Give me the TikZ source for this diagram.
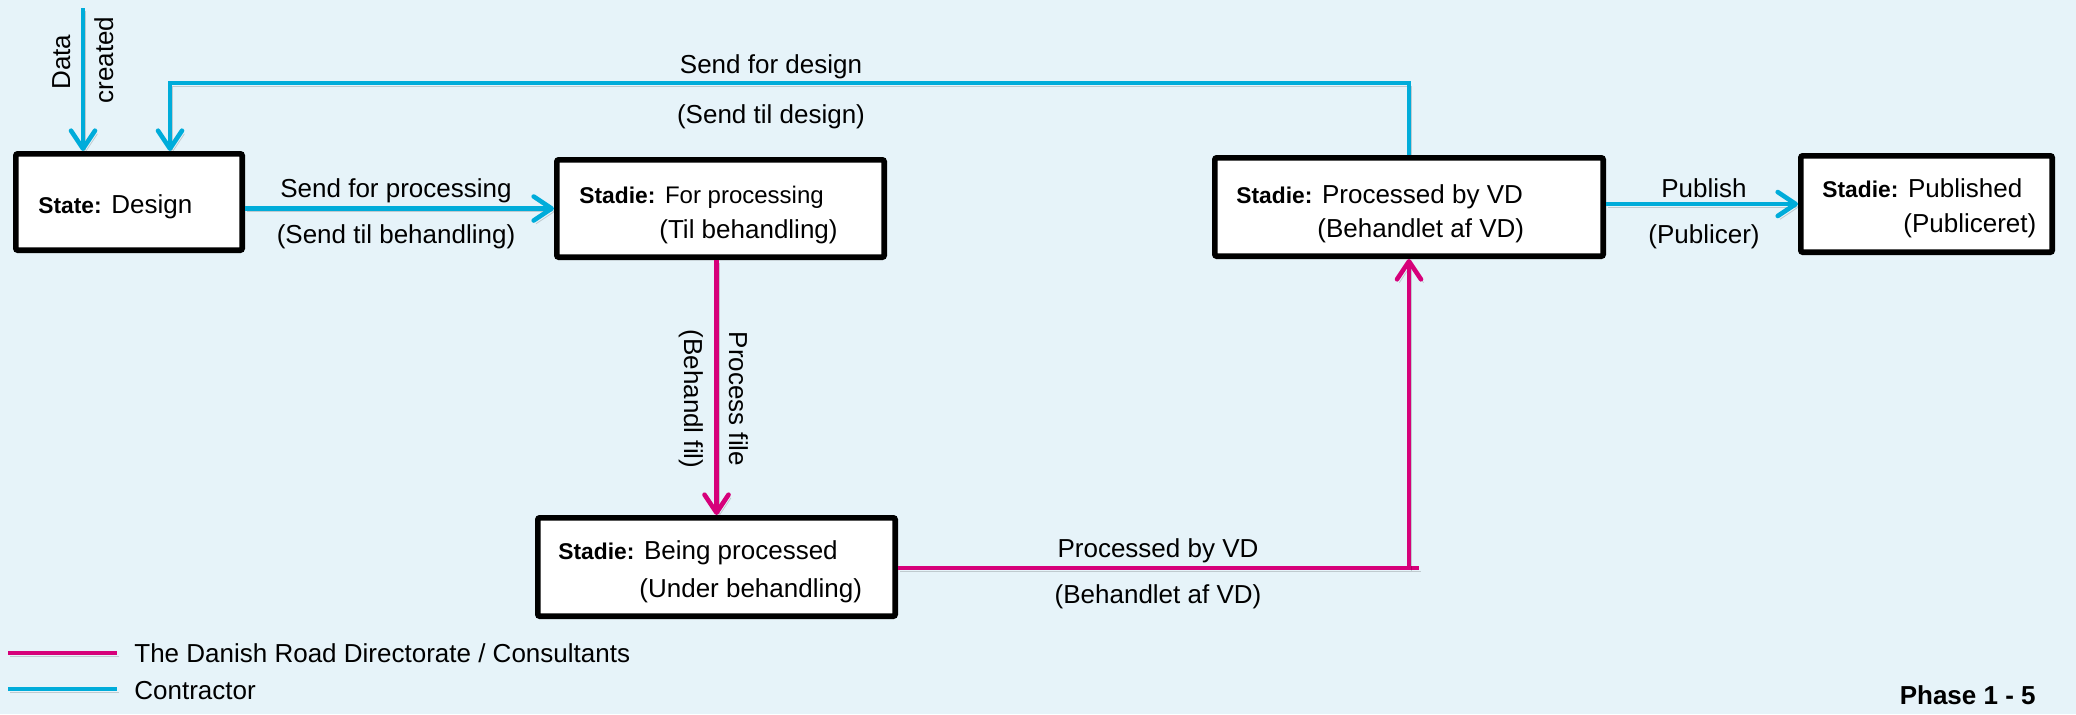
\documentclass[tikz,border=0pt]{standalone}
\usepackage{fontspec}
\setmainfont{Liberation Sans}
\usetikzlibrary{arrows.meta}
\definecolor{bgc}{RGB}{230,243,249}
\definecolor{cblue}{RGB}{0,172,218}
\definecolor{cmag}{RGB}{214,0,122}
\newcommand{\mainsz}{\fontsize{13}{15.6}\selectfont}
\newcommand{\labsz}{\fontsize{11.4}{13.7}\selectfont}
\newcommand{\smsz}{\fontsize{12}{14.4}\selectfont}
\newcommand{\stlab}[1]{{\labsz\bfseries #1}}
\begin{document}
\begin{tikzpicture}[x=0.5pt, y=-0.5pt, font=\mainsz,
  box/.style={draw=black, fill=white, line width=2.8pt, rounded corners=1pt, inner sep=0pt},
  txt/.style={inner sep=0pt, anchor=base west},
  ctxt/.style={inner sep=0pt, anchor=base},
  bl/.style={draw=cblue, line width=2.3pt},
  mg/.style={draw=cmag, line width=2.3pt},
  tip/.style={-{Straight Barb[length=9pt,width=12pt,round]}},
  shd/.style={preaction={draw=black, draw opacity=0.17, transform canvas={shift={(1.2pt,-1.6pt)}}}}
]
\fill[bgc] (0,0) rectangle (2076,714);
\useasboundingbox (0,0) rectangle (2076,714);

% boxes
\node[box, minimum width=113.2pt, minimum height=48.2pt] (design) at (129,202) {};
\node[box, minimum width=163.7pt, minimum height=48.7pt] (forproc) at (720.5,208.5) {};
\node[box, minimum width=194.2pt, minimum height=49.2pt] (processed) at (1409,207) {};
\node[box, minimum width=125.7pt, minimum height=48.2pt] (published) at (1926.5,204) {};
\node[box, minimum width=178.7pt, minimum height=49.2pt] (beingproc) at (716.5,567) {};

% box texts
\node[txt] (tdesign) at (38,213) {\stlab{State:} Design};
\node[txt] (tfp1) at (579,203) {\stlab{Stadie:} {\smsz For processing}};
\node[txt] (tfp2) at (659,238) {(Til behandling)};
\node[txt] (tpv1) at (1236,203) {\stlab{Stadie:} Processed by VD};
\node[txt] (tpv2) at (1317,237) {(Behandlet af VD)};
\node[txt] (tpu1) at (1822,197) {\stlab{Stadie:} Published};
\node[txt] (tpu2) at (1903,232) {(Publiceret)};
\node[txt] (tbp1) at (558,559) {\stlab{Stadie:} Being processed};
\node[txt] (tbp2) at (639,597) {(Under behandling)};

% blue connectors
\coordinate (dtop) at (83,8);
\draw[bl, tip, shd] (dtop) -- (dtop |- design.north);
\coordinate (tl) at (170,83);
\draw[bl, tip, shd] (processed.north) |- (tl) -- (tl |- design.north);
\draw[bl, tip, shd] (design.east |- forproc.west) -- (forproc.west);
\draw[bl, tip, shd] (processed.east |- published.west) -- (published.west);

% magenta connectors
\draw[mg, tip, shd] (forproc.south -| beingproc.north) -- (beingproc.north);
\coordinate (mr) at (1419,568);
\draw[mg, shd] (beingproc.east |- mr) -- (mr);
\draw[mg, tip, shd] (mr -| processed.south) -- (processed.south);

% connector labels
\node[ctxt] (l1a) at (396,197) {Send for processing};
\node[ctxt] (l1b) at (396,243) {(Send til behandling)};
\node[ctxt] (l2a) at (771,73) {Send for design};
\node[ctxt] (l2b) at (771,123) {(Send til design)};
\node[ctxt] (l3a) at (1704,197) {Publish};
\node[ctxt] (l3b) at (1704,243) {(Publicer)};
\node[ctxt] (l4a) at (1158,557) {Processed by VD};
\node[ctxt] (l4b) at (1158,603) {(Behandlet af VD)};
\node[rotate=90, anchor=base, inner sep=0pt] (dc1) at (70,62) {Data};
\node[rotate=90, anchor=base, inner sep=0pt] (dc2) at (113,60) {created};
\node[rotate=-90, anchor=base, inner sep=0pt] (pf1) at (729,399) {Process file};
\node[rotate=-90, anchor=base, inner sep=0pt] (pf2) at (684,399) {(Behandl fil)};

% legend
\coordinate (lg1a) at (8,653); \coordinate (lg1b) at (117,653);
\coordinate (lg2a) at (8,689); \coordinate (lg2b) at (117,689);
\draw[mg, shd] (lg1a) -- (lg1b);
\draw[bl, shd] (lg2a) -- (lg2b);
\node[txt] (lt1) at (134,662) {The Danish Road Directorate / Consultants};
\node[txt] (lt2) at (134,699) {Contractor};
\node[inner sep=0pt, anchor=base east, font=\mainsz\bfseries] (phase) at (2036,704) {Phase 1 - 5};
\end{tikzpicture}
\end{document}
